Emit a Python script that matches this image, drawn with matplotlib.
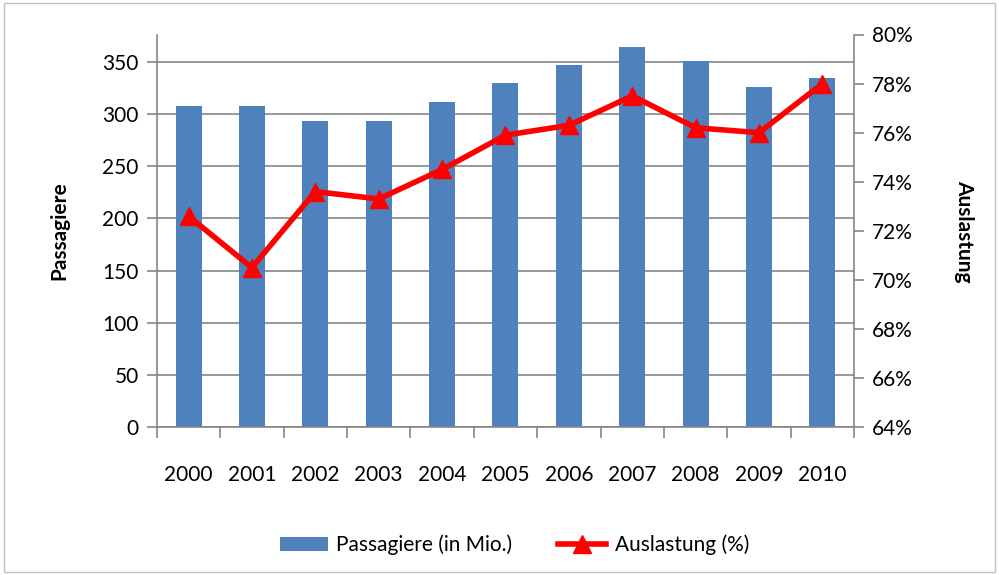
import numpy as np
import matplotlib
matplotlib.use("Agg")
import matplotlib.pyplot as plt
from matplotlib.ticker import FuncFormatter

plt.rcParams['font.family'] = ['Lato', 'DejaVu Sans']

years = ['2000', '2001', '2002', '2003', '2004', '2005', '2006', '2007', '2008', '2009', '2010']
passagiere = [308, 308, 293, 293, 311, 330, 347, 364, 351, 326, 334]
auslastung = [72.6, 70.5, 73.6, 73.3, 74.5, 75.9, 76.3, 77.5, 76.2, 76.0, 78.0]

grey = '#868686'
fig = plt.figure(figsize=(9.99, 5.75), dpi=100)
ax = fig.add_axes([0.157, 0.257, 0.698, 0.683])
x = np.arange(len(years))

ax.set_axisbelow(True)
ax.yaxis.grid(True, color=grey, lw=1.2)
bars = ax.bar(x, passagiere, width=0.41, color='#4F81BD', label='Passagiere (in Mio.)', zorder=2)
ax.set_xlim(-0.5, len(years) - 0.5)
ax.set_ylim(0, 376)
ax.set_yticks(range(0, 351, 50))
ax.set_xticks(x)
ax.set_xticklabels(years)
ax.set_xticks(np.arange(-0.5, len(years)), minor=True)
ax.tick_params(axis='x', which='major', length=0, pad=27, labelsize=15)
ax.tick_params(axis='x', which='minor', length=8, color=grey, width=1.2, direction='out')
ax.tick_params(axis='y', length=7, color=grey, width=1.2, labelsize=15, pad=6)
for s in ['top', 'right']:
    ax.spines[s].set_visible(False)
for s in ['left', 'bottom']:
    ax.spines[s].set_color(grey)
    ax.spines[s].set_linewidth(1.2)
ax.set_ylabel('Passagiere', fontsize=15, fontweight='bold', labelpad=24)

ax2 = ax.twinx()
line, = ax2.plot(x, auslastung, color='red', lw=4, marker='^', markersize=13,
                 label='Auslastung (%)', zorder=3)
ax2.set_ylim(64, 80)
ax2.set_yticks(range(64, 81, 2))
ax2.yaxis.set_major_formatter(FuncFormatter(lambda v, p: '%d%%' % v))
ax2.tick_params(axis='y', length=7, color=grey, width=1.2, labelsize=15, pad=6)
for s in ['top', 'left', 'bottom']:
    ax2.spines[s].set_visible(False)
ax2.spines['right'].set_color(grey)
ax2.spines['right'].set_linewidth(1.2)
ax2.set_ylabel('Auslastung', fontsize=15, fontweight='bold', rotation=-90, labelpad=44)

fig.legend([bars, line], ['Passagiere (in Mio.)', 'Auslastung (%)'], loc='center',
           bbox_to_anchor=(0.515, 0.052), ncol=2, frameon=False, fontsize=15,
           handlelength=2.3, columnspacing=2.2, handletextpad=0.4)

border = plt.Rectangle((0.004, 0.005), 0.992, 0.99, transform=fig.transFigure,
                       fill=False, edgecolor='#BFBFBF', lw=1)
fig.patches.append(border)

fig.savefig('out.png', dpi=100)
